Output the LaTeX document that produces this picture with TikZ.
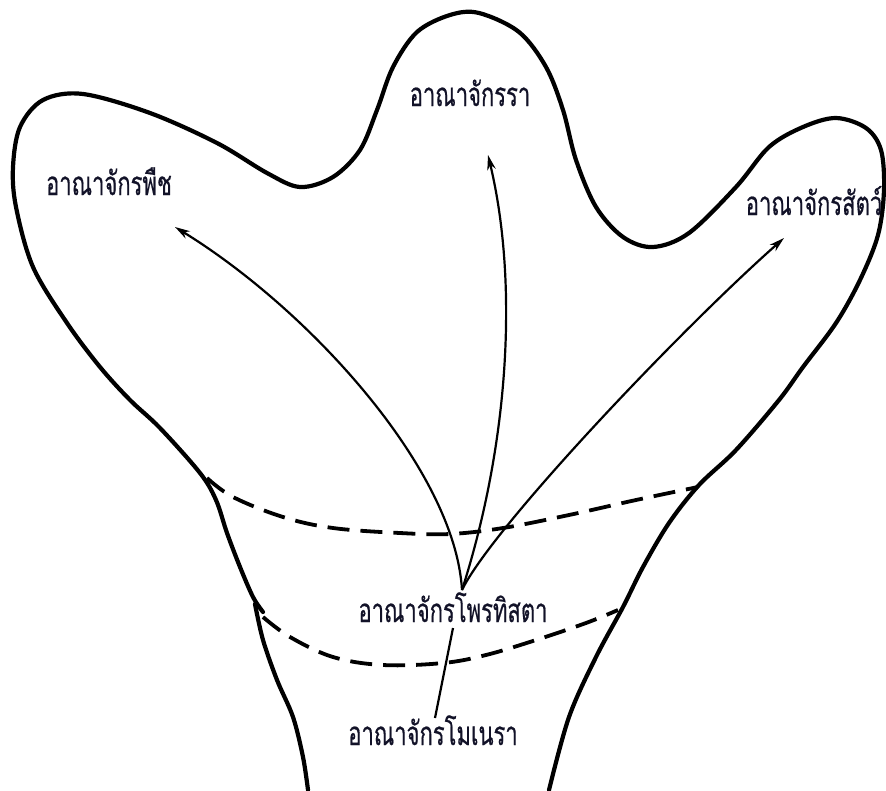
\documentclass[tikz,border=0pt]{standalone}
\usepackage{fontspec}
\newfontfamily\thaifont[Script=Thai,FakeBold=0.6]{Loma}
\usetikzlibrary{arrows.meta}
\definecolor{txt}{RGB}{18,18,40}
\newcommand\tall[1]{\scalebox{1}[1.5]{#1}}
\begin{document}
\begin{tikzpicture}[x=1pt,y=-1pt,
  outline/.style={line width=4.2pt,line cap=round,line join=round},
  zone/.style={line width=3.8pt,dash pattern=on 22pt off 11pt},
  evo/.style={line width=2.2pt,-{Stealth[length=15pt,width=8.5pt]}},
  lbl/.style={anchor=base,inner sep=0pt,text=txt,font=\thaifont\fontsize{22}{24}\selectfont}]
\useasboundingbox[fill=white] (0,0) rectangle (886,790);
% outer outline
\draw[outline] plot[smooth,tension=0.55] coordinates {
 (263,612) (253,597) (240,567) (227,533) (216,500) (200,473) (160,428) (130,400) (100,367) (67,323) (33,267) (16,207)
 (13,167) (20,127) (43,100) (83,94) (150,113) (217,143) (267,173) (300,187) (333,177) (360,150)
 (377,110) (393,67) (417,32) (450,15) (479,13) (519,32) (546,67) (563,110) (576,160) (596,207)
 (623,237) (653,247) (689,233) (736,187) (769,147) (803,127) (836,118) (866,128) (881,150) (884,190)
 (878,235) (860,280) (836,323) (803,367) (779,400) (736,450) (699,485) (669,523) (643,567) (623,607)
 (596,657) (569,717) (549,790)};
\draw[outline] plot[smooth,tension=0.55] coordinates {
 (255,604) (263,640) (277,680) (293,717) (303,757) (308,790)};
% dashed zone limits
\draw[zone] plot[smooth,tension=0.6] coordinates {
 (207,478) (233,497) (283,517) (333,528) (400,533) (450,534) (503,528) (569,515) (636,500) (698,487)};
\draw[zone] plot[smooth,tension=0.6] coordinates {
 (263,617) (290,637) (333,657) (383,665) (443,663) (486,655) (536,640) (586,623) (618,610)};
% labels
\node[lbl] (plant) at (109,195) {\tall{อาณาจักรพืช}};
\node[lbl] (fungi) at (470,106) {\tall{อาณาจักรรา}};
\node[lbl] (animal) at (814,215) {\tall{อาณาจักรสัตว์}};
\node[lbl] (protista) at (453,622) {\tall{อาณาจักรโพรทิสตา}};
\node[lbl] (monera) at (433,745) {\tall{อาณาจักรโมเนรา}};
% connector ends
\coordinate (src) at (462,590);
\coordinate (tplant) at (175,227);
\coordinate (tfungi) at (488,155);
\coordinate (tanimal) at (784,238);
\coordinate (mtop) at (453,628);
\coordinate (mbot) at (435,718);
% arrows
\draw[evo] (src) .. controls (455,470) and (310,310) .. (tplant);
\draw[evo] (src) .. controls (510,440) and (518,280) .. (tfungi);
\draw[evo] (src) .. controls (492,528) and (680,330) .. (tanimal);
\draw[line width=2.2pt] (mbot) -- (mtop);
\end{tikzpicture}
\end{document}
